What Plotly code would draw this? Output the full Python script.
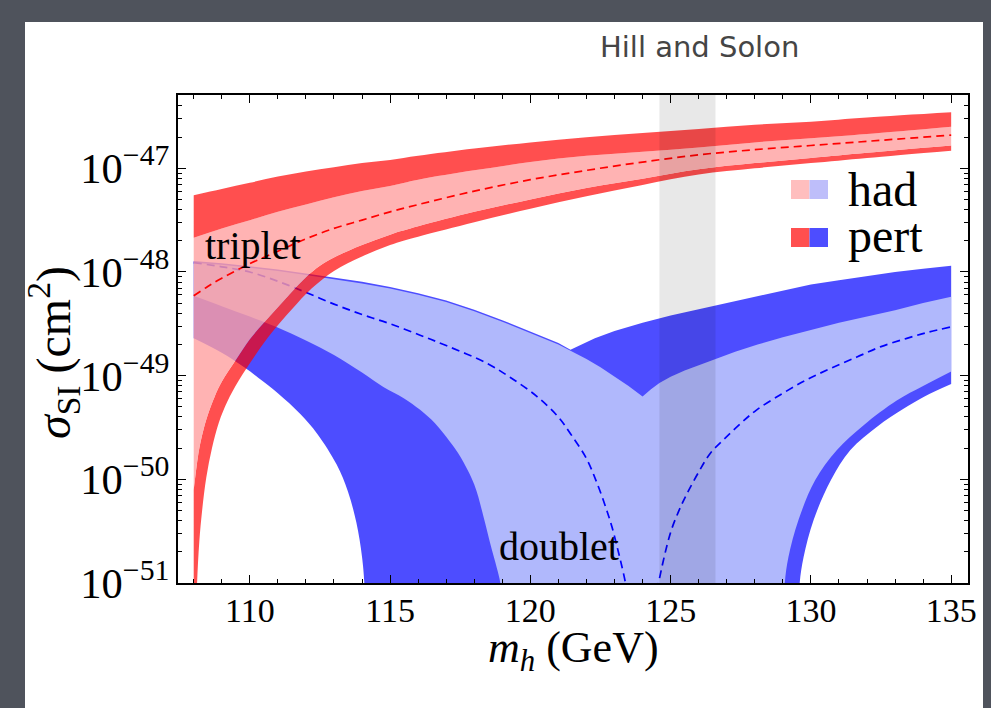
import plotly.graph_objects as go

# ---------------- data: log10(sigma_SI / cm^2) ----------------
# Triplet (red)
red_mh        = [108, 109, 110, 111, 112, 113, 114, 115, 116, 118, 120, 122, 124, 126, 128, 130, 132, 135]
red_pert_hi   = [-47.26, -47.20, -47.14, -47.08, -47.03, -46.99, -46.95, -46.92, -46.88, -46.81, -46.75,
                 -46.70, -46.66, -46.62, -46.58, -46.55, -46.51, -46.46]
red_had_hi    = [-47.67, -47.58, -47.50, -47.42, -47.35, -47.28, -47.22, -47.17, -47.11, -47.02, -46.94,
                 -46.88, -46.84, -46.80, -46.75, -46.71, -46.67, -46.60]

red_lo_mh     = [108.0, 108.1, 108.2, 108.35, 108.5, 108.75, 109.0, 109.5, 110.0, 110.5, 111.0, 111.5,
                 112.0, 112.5, 113.0, 114.0, 115.0, 116.0, 118.0, 120.0, 122.0, 124.0, 126.0, 128.0,
                 130.0, 132.0, 135.0]
red_had_lo    = [-50.10, -49.88, -49.70, -49.52, -49.38, -49.20, -49.06, -48.85, -48.65, -48.49, -48.34,
                 -48.19, -48.05, -47.94, -47.86, -47.74, -47.64, -47.56, -47.42, -47.30, -47.19, -47.10,
                 -47.01, -46.95, -46.90, -46.85, -46.78]

red_plo_mh    = [108.0, 108.05, 108.12, 108.2, 108.3, 108.45, 108.65, 108.9, 109.2, 109.6, 110.2, 110.8,
                 111.5, 112.2, 113.0, 114.0, 115.0, 116.0, 118.0, 120.0, 122.0, 124.0, 126.0, 128.0,
                 130.0, 132.0, 135.0]
red_pert_lo   = [-53.0, -51.6, -51.0, -50.6, -50.3, -49.98, -49.70, -49.45, -49.25, -49.05, -48.80, -48.58,
                 -48.36, -48.16, -47.99, -47.85, -47.74, -47.66, -47.52, -47.39, -47.27, -47.16, -47.06,
                 -47.00, -46.95, -46.90, -46.83]

red_c_mh      = [108, 108.5, 109, 110, 111, 112, 113, 114, 115, 116, 118, 120, 122, 124, 126, 128, 130, 132, 135]
red_center    = [-48.23, -48.14, -48.06, -47.92, -47.80, -47.68, -47.58, -47.50, -47.42, -47.35, -47.22,
                 -47.11, -47.02, -46.94, -46.87, -46.82, -46.78, -46.74, -46.68]

# Doublet (blue)
blu_hhi_mh    = [108, 109, 110, 111, 112, 113, 114, 115, 116, 117, 118, 119, 120, 121, 121.5, 122, 122.5,
                 123, 123.5, 124.0, 124.3, 124.6, 125.0, 125.5, 126.0, 126.6, 127.3, 128.1, 129, 130, 131,
                 132, 133, 134, 135]
blu_had_hi    = [-47.91, -47.93, -47.96, -47.99, -48.03, -48.07, -48.11, -48.16, -48.22, -48.29, -48.38,
                 -48.48, -48.59, -48.70, -48.77, -48.84, -48.92, -49.01, -49.10, -49.20, -49.13, -49.07,
                 -49.01, -48.95, -48.90, -48.84, -48.77, -48.70, -48.63, -48.56, -48.49, -48.43, -48.37,
                 -48.30, -48.24]

blu_phi_mh    = [108, 109, 110, 111, 112, 113, 114, 115, 116, 117, 118, 119, 120, 121, 121.43, 121.8,
                 122.3, 123, 124, 125, 126, 127, 128, 129, 130, 131, 132, 133, 134, 135]
blu_pert_hi   = [-47.895, -47.915, -47.945, -47.975, -48.015, -48.055, -48.095, -48.145, -48.205, -48.275,
                 -48.365, -48.465, -48.575, -48.685, -48.75, -48.70, -48.64, -48.57, -48.49, -48.42,
                 -48.36, -48.30, -48.24, -48.18, -48.12, -48.08, -48.04, -48.00, -47.97, -47.94]

blu_hlo_mh    = [108, 109, 110, 110.95, 112, 113, 114, 114.76, 115.5, 116.07, 116.6, 117.14, 117.5, 118.0,
                 118.33, 118.6, 118.8, 118.93, 119.05, 119.1,
                 128.95, 129.03, 129.07, 129.2, 129.56, 130.15, 130.92, 131.87, 133.06, 134.0, 135.0]
blu_had_lo    = [-48.23, -48.33, -48.43, -48.53, -48.66, -48.80, -48.97, -49.11, -49.22, -49.33, -49.46,
                 -49.64, -49.78, -50.05, -50.36, -50.65, -50.85, -51.0, -51.4, -53.0,
                 -53.0, -51.3, -51.0, -50.75, -50.39, -50.01, -49.72, -49.48, -49.24, -49.10, -48.96]

blu_plo_mh    = [108, 109, 109.8, 110.3, 111.0, 111.8, 112.4, 113.1, 113.5, 113.8, 114.0, 114.1, 114.15,
                 129.45, 129.55, 129.6, 129.74, 130.1, 130.71, 131.4, 132.37, 133.3, 134.05, 135.0]
blu_pert_lo   = [-48.64, -48.78, -48.92, -49.02, -49.17, -49.37, -49.56, -49.86, -50.12, -50.42, -50.75,
                 -51.1, -53.0,
                 -53.0, -51.3, -51.0, -50.75, -50.39, -50.01, -49.72, -49.49, -49.32, -49.20, -49.08]

blu_cL_mh     = [108, 109, 110, 111, 111.94, 113, 114, 115, 116.07, 117, 118.45, 119.3, 120.23, 121,
                 121.43, 122, 122.38, 122.7, 122.91, 123.1, 123.21, 123.39, 123.5]
blu_cL        = [-47.91, -47.95, -48.00, -48.09, -48.19, -48.31, -48.41, -48.50, -48.61, -48.71, -48.88,
                 -49.02, -49.20, -49.40, -49.56, -49.80, -50.04, -50.28, -50.46, -50.66, -50.78, -51.0, -51.2]
blu_cR_mh     = [124.45, 124.57, 124.99, 125.3, 125.58, 126.0, 126.41, 126.88, 127.5, 128.07, 129.0,
                 129.85, 130.7, 131.64, 132.5, 133.42, 134.2, 135.0]
blu_cR        = [-51.2, -51.0, -50.52, -50.3, -50.14, -49.93, -49.75, -49.62, -49.46, -49.33, -49.17,
                 -49.04, -48.93, -48.82, -48.72, -48.64, -48.58, -48.53]

# Higgs mass window (grey band), GeV
mh_band = [124.6, 126.6]

# axis ticks
x_ticks = [110, 115, 120, 125, 130, 135]

# ---------------- colours ----------------
DARK_RED = "rgba(255,0,0,0.69)"
LIGHT_RED = "rgba(255,160,160,0.8)"
DARK_BLUE = "rgb(77,77,255)"
LIGHT_BLUE = "rgb(176,184,252)"


def sig(vals):
    return [10 ** v if v is not None else None for v in vals]


fig = go.Figure()


def band(x_lo, y_lo, x_hi, y_hi, color, lo_shape="spline", hi_shape="spline"):
    fig.add_trace(go.Scatter(x=x_lo, y=sig(y_lo), mode="lines",
                             line=dict(width=0, shape=lo_shape, smoothing=1.0),
                             hoverinfo="skip", showlegend=False))
    fig.add_trace(go.Scatter(x=x_hi, y=sig(y_hi), mode="lines",
                             line=dict(width=0, shape=hi_shape, smoothing=1.0),
                             fill="tonexty", fillcolor=color, hoverinfo="skip", showlegend=False))


# doublet (upper edges have cusps -> straight segments)
band(blu_plo_mh, blu_pert_lo, blu_phi_mh, blu_pert_hi, DARK_BLUE, hi_shape="linear")
band(blu_hlo_mh, blu_had_lo, blu_hhi_mh, blu_had_hi, LIGHT_BLUE, hi_shape="linear")
for xs, ys in ((blu_cL_mh, blu_cL), (blu_cR_mh, blu_cR)):
    fig.add_trace(go.Scatter(x=xs, y=sig(ys), mode="lines",
                             line=dict(color="rgb(0,0,255)", width=1.7, dash="8px,5px",
                                       shape="spline", smoothing=1.0),
                             hoverinfo="skip", showlegend=False))

# triplet
band(red_plo_mh, red_pert_lo, red_lo_mh, red_had_lo, DARK_RED)
band(red_lo_mh, red_had_lo, red_mh, red_had_hi, LIGHT_RED)
band(red_mh, red_had_hi, red_mh, red_pert_hi, DARK_RED)
fig.add_trace(go.Scatter(x=red_c_mh, y=sig(red_center), mode="lines",
                         line=dict(color="rgb(255,0,0)", width=1.7, dash="8px,5px",
                                   shape="spline", smoothing=1.0),
                         hoverinfo="skip", showlegend=False))

# plot-area geometry (pixels)
L, R, T, B = 178, 968, 95, 583
W, H = 991, 708


def px(x):
    return (x - L) / (R - L)


def py(y):
    return (B - y) / (B - T)


shapes = [
    # white slide panel
    dict(type="rect", xref="paper", yref="paper", x0=px(25), x1=px(983), y0=py(730), y1=py(22),
         fillcolor="white", line=dict(width=0), layer="below"),
    # grey mh band
    dict(type="rect", xref="x", yref="paper", x0=mh_band[0], x1=mh_band[1], y0=0, y1=1,
         fillcolor="rgba(0,0,0,0.09)", line=dict(width=0), layer="above"),
    # legend swatches
    dict(type="rect", xref="paper", yref="paper", x0=px(791), x1=px(809.5), y0=py(199), y1=py(180),
         fillcolor="rgb(255,190,190)", line=dict(width=0)),
    dict(type="rect", xref="paper", yref="paper", x0=px(809.5), x1=px(828), y0=py(199), y1=py(180),
         fillcolor="rgb(190,190,250)", line=dict(width=0)),
    dict(type="rect", xref="paper", yref="paper", x0=px(791), x1=px(809.5), y0=py(247), y1=py(228),
         fillcolor="rgb(255,79,79)", line=dict(width=0)),
    dict(type="rect", xref="paper", yref="paper", x0=px(809.5), x1=px(828), y0=py(247), y1=py(228),
         fillcolor="rgb(77,77,255)", line=dict(width=0)),
]

serif = "Liberation Serif"
annotations = [
    dict(text="Hill and Solon", xref="paper", yref="paper", x=px(699), y=py(47), showarrow=False,
         font=dict(family="DejaVu Sans", size=29, color="#454545"), xanchor="center", yanchor="middle"),
    dict(text="had", xref="paper", yref="paper", x=px(846), y=py(189), showarrow=False,
         font=dict(family=serif, size=48, color="black"), xanchor="left", yanchor="middle"),
    dict(text="pert", xref="paper", yref="paper", x=px(846), y=py(235), showarrow=False,
         font=dict(family=serif, size=48, color="black"), xanchor="left", yanchor="middle"),
    dict(text="triplet", xref="x", yref="y", x=108.33, y=-47.74, showarrow=False,
         font=dict(family=serif, size=40, color="black"), xanchor="left", yanchor="middle"),
    dict(text="doublet", xref="x", yref="y", x=118.8, y=-50.65, showarrow=False,
         font=dict(family=serif, size=40, color="black"), xanchor="left", yanchor="middle"),
    # axis titles
    dict(text="<i>m</i><sub><i>h</i></sub> (GeV)", xref="paper", yref="paper", x=px(573), y=py(650),
         showarrow=False, font=dict(family=serif, size=44, color="black"),
         xanchor="center", yanchor="middle"),
    dict(text="<i>σ</i><sub>SI</sub> (cm<sup>2</sup>)", xref="paper", yref="paper", x=px(53), y=py(352),
         showarrow=False, textangle=-90, font=dict(family=serif, size=48, color="black"),
         xanchor="center", yanchor="middle"),
]

axis_common = dict(showline=True, linecolor="black", linewidth=1.6, mirror="ticks",
                   ticks="inside", ticklen=8, tickwidth=1.3, tickcolor="black",
                   showgrid=False, zeroline=False,
                   tickfont=dict(family=serif, size=34, color="black"))

fig.update_layout(
    width=W, height=H,
    margin=dict(l=L, r=W - R, t=T, b=H - B, pad=0),
    paper_bgcolor="#4f535c", plot_bgcolor="white",
    showlegend=False,
    shapes=shapes, annotations=annotations,
    xaxis=dict(range=[107.44, 135.6], tickmode="array", tickvals=x_ticks, ticklabelstandoff=-4,
               minor=dict(dtick=1, tick0=0, ticks="inside", ticklen=4, tickwidth=1.2, tickcolor="black",
                          showgrid=False),
               **axis_common),
    yaxis=dict(type="log", range=[-51, -46.293], tickmode="linear", tick0=0, dtick=1,
               exponentformat="power",
               minor=dict(dtick="D1", ticks="inside", ticklen=4, tickwidth=1.2, tickcolor="black",
                          showgrid=False),
               **axis_common),
)

fig.write_html("out.html")
